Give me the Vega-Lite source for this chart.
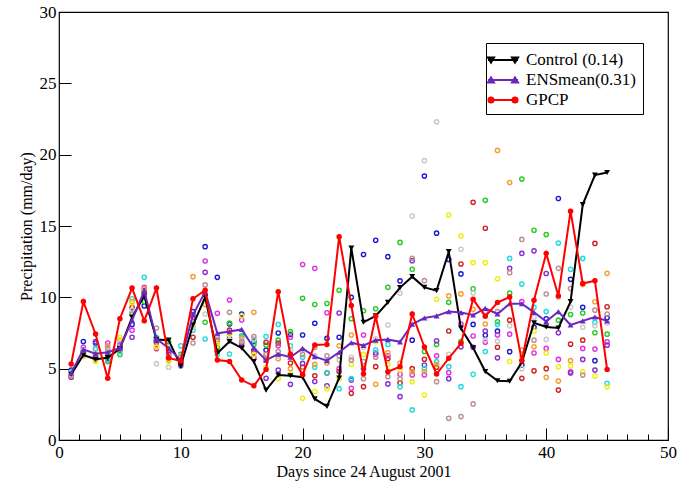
{
  "$schema": "https://vega.github.io/schema/vega-lite/v6.json",
  "width": 609,
  "height": 428,
  "autosize": {"type": "none"},
  "padding": {"left": 59, "top": 12, "right": 11, "bottom": 45},
  "background": "white",
  "config": {
    "view": {"stroke": "black", "strokeWidth": 1.2},
    "font": "Liberation Serif",
    "axis": {
      "domain": false,
      "grid": false,
      "tickColor": "black",
      "tickWidth": 1,
      "labelColor": "black",
      "labelFont": "Liberation Serif",
      "labelFontSize": 17,
      "titleFont": "Liberation Serif",
      "titleFontSize": 16,
      "titleFontWeight": "normal",
      "titleColor": "black",
      "labelFlush": false,
      "labelOverlap": false
    }
  },
  "datasets": {
    "members": [
      {"d": 1, "blue": 4.9, "green": 4.7, "red": 4.6, "magenta": 4.4, "violet": 4.4, "cyan": 4.8, "orange": 4.5, "yellow": 4.6, "grey": 4.7, "brown": 4.5},
      {"d": 2, "blue": 6.9, "green": 6.0, "red": 6.1, "magenta": 6.5, "violet": 6.3, "cyan": 6.2, "orange": 5.9, "yellow": 6.0, "grey": 6.3, "brown": 6.1},
      {"d": 3, "blue": 6.8, "green": 6.0, "red": 5.8, "magenta": 6.4, "violet": 6.9, "cyan": 6.4, "orange": 5.6, "yellow": 5.5, "grey": 6.1, "brown": 5.7},
      {"d": 4, "blue": 5.9, "green": 5.5, "red": 5.7, "magenta": 6.8, "violet": 6.1, "cyan": 5.6, "orange": 6.6, "yellow": 6.0, "grey": 6.2, "brown": 6.4},
      {"d": 5, "blue": 6.5, "green": 6.0, "red": 6.3, "magenta": 6.4, "violet": 6.6, "cyan": 6.2, "orange": 7.0, "yellow": 7.2, "grey": 6.8, "brown": 6.7},
      {"d": 6, "blue": 8.1, "green": 8.9, "red": 9.3, "magenta": 7.7, "violet": 7.2, "cyan": 9.9, "orange": 9.7, "yellow": 9.6, "grey": 9.1, "brown": 8.8},
      {"d": 7, "blue": 9.4, "green": 9.7, "red": 10.3, "magenta": 10.7, "violet": 10.5, "cyan": 11.4, "orange": 10.6, "yellow": 10.2, "grey": 10.0, "brown": 10.1},
      {"d": 8, "blue": 7.0, "green": 7.1, "red": 6.9, "magenta": 6.4, "violet": 6.8, "cyan": 7.2, "orange": 6.6, "yellow": 6.5, "grey": 5.35, "brown": 7.85},
      {"d": 9, "blue": 6.3, "green": 6.9, "red": 5.8, "magenta": 6.1, "violet": 6.0, "cyan": 6.4, "orange": 5.6, "yellow": 5.5, "grey": 5.1, "brown": 5.9},
      {"d": 10, "blue": 5.8, "green": 6.0, "red": 5.6, "magenta": 5.4, "violet": 5.2, "cyan": 6.6, "orange": 5.5, "yellow": 5.7, "grey": 5.9, "brown": 5.5},
      {"d": 11, "blue": 9.0, "green": 8.3, "red": 7.2, "magenta": 8.6, "violet": 8.8, "cyan": 7.7, "orange": 11.45, "yellow": 8.0, "grey": 7.9, "brown": 6.8},
      {"d": 12, "blue": 13.55, "green": 8.25, "red": 10.2, "magenta": 12.55, "violet": 11.75, "cyan": 7.08, "orange": 9.5, "yellow": 9.8, "grey": 8.83, "brown": 10.87},
      {"d": 13, "blue": 11.4, "green": 6.5, "red": 6.2, "magenta": 8.88, "violet": 7.0, "cyan": 6.0, "orange": 6.9, "yellow": 6.7, "grey": 7.36, "brown": 7.2},
      {"d": 14, "blue": 8.13, "green": 8.2, "red": 7.7, "magenta": 9.81, "violet": 7.13, "cyan": 6.03, "orange": 7.5, "yellow": 7.4, "grey": 7.0, "brown": 8.95},
      {"d": 15, "blue": 8.83, "green": 7.3, "red": 6.6, "magenta": 8.41, "violet": 6.8, "cyan": 7.2, "orange": 7.13, "yellow": 8.7, "grey": 7.0, "brown": 6.9},
      {"d": 16, "blue": 6.9, "green": 6.7, "red": 6.1, "magenta": 5.77, "violet": 6.3, "cyan": 7.0, "orange": 8.95, "yellow": 6.0, "grey": 7.1, "brown": 7.25},
      {"d": 17, "blue": 6.3, "green": 6.66, "red": 6.85, "magenta": 5.6, "violet": 4.33, "cyan": 7.25, "orange": 6.0, "yellow": 5.1, "grey": 5.8, "brown": 6.0},
      {"d": 18, "blue": 7.5, "green": 7.0, "red": 6.8, "magenta": 6.6, "violet": 4.9, "cyan": 8.1, "orange": 5.7, "yellow": 4.3, "grey": 5.9, "brown": 6.2},
      {"d": 19, "blue": 7.4, "green": 7.6, "red": 5.4, "magenta": 7.2, "violet": 3.9, "cyan": 6.6, "orange": 5.0, "yellow": 4.6, "grey": 6.3, "brown": 6.0},
      {"d": 20, "blue": 7.36, "green": 9.93, "red": 5.1, "magenta": 12.3, "violet": 5.37, "cyan": 5.8, "orange": 4.8, "yellow": 2.92, "grey": 6.3, "brown": 6.0},
      {"d": 21, "blue": 8.18, "green": 9.5, "red": 4.5, "magenta": 12.03, "violet": 4.1, "cyan": 5.1, "orange": 5.3, "yellow": 3.4, "grey": 5.9, "brown": 6.5},
      {"d": 22, "blue": 7.12, "green": 9.57, "red": 4.7, "magenta": 8.92, "violet": 3.8, "cyan": 4.72, "orange": 5.4, "yellow": 3.6, "grey": 5.6, "brown": 5.9},
      {"d": 23, "blue": 7.2, "green": 10.5, "red": 4.8, "magenta": 5.0, "violet": 8.9, "cyan": 3.6, "orange": 6.6, "yellow": 4.3, "grey": 5.6, "brown": 5.9},
      {"d": 24, "blue": 10.0, "green": 8.5, "red": 3.27, "magenta": 3.62, "violet": 4.2, "cyan": 4.3, "orange": 7.36, "yellow": 5.3, "grey": 5.8, "brown": 5.6},
      {"d": 25, "blue": 13.0, "green": 9.06, "red": 3.74, "magenta": 7.36, "violet": 5.0, "cyan": 5.5, "orange": 5.2, "yellow": 6.0, "grey": 6.5, "brown": 4.3},
      {"d": 26, "blue": 14.0, "green": 9.2, "red": 5.14, "magenta": 6.0, "violet": 6.1, "cyan": 6.3, "orange": 3.9, "yellow": 6.9, "grey": 7.1, "brown": 5.8},
      {"d": 27, "blue": 12.85, "green": 10.7, "red": 5.7, "magenta": 5.9, "violet": 3.93, "cyan": 6.7, "orange": 6.12, "yellow": 5.3, "grey": 8.06, "brown": 4.44},
      {"d": 28, "blue": 11.15, "green": 13.85, "red": 4.0, "magenta": 4.6, "violet": 3.04, "cyan": 3.74, "orange": 5.4, "yellow": 4.9, "grey": 10.28, "brown": 4.3},
      {"d": 29, "blue": 7.0, "green": 11.96, "red": 5.0, "magenta": 4.56, "violet": 12.57, "cyan": 2.11, "orange": 4.79, "yellow": 4.09, "grey": 15.7, "brown": 12.74},
      {"d": 30, "blue": 18.5, "green": 6.2, "red": 5.66, "magenta": 4.56, "violet": 5.26, "cyan": 5.0, "orange": 4.8, "yellow": 3.15, "grey": 19.58, "brown": 11.17},
      {"d": 31, "blue": 14.5, "green": 6.7, "red": 5.1, "magenta": 5.9, "violet": 6.96, "cyan": 5.49, "orange": 5.3, "yellow": 9.86, "grey": 22.3, "brown": 4.09},
      {"d": 32, "blue": 12.66, "green": 9.65, "red": 7.64, "magenta": 4.72, "violet": 4.3, "cyan": 5.14, "orange": 10.1, "yellow": 15.77, "grey": 6.0, "brown": 1.52},
      {"d": 33, "blue": 11.64, "green": 6.9, "red": 12.34, "magenta": 8.13, "violet": 6.54, "cyan": 3.74, "orange": 10.24, "yellow": 14.3, "grey": 13.37, "brown": 1.64},
      {"d": 34, "blue": 8.1, "green": 10.6, "red": 16.66, "magenta": 7.29, "violet": 6.5, "cyan": 4.6, "orange": 9.16, "yellow": 12.43, "grey": 10.3, "brown": 2.53},
      {"d": 35, "blue": 7.34, "green": 16.8, "red": 14.84, "magenta": 6.85, "violet": 7.64, "cyan": 6.2, "orange": 8.13, "yellow": 12.43, "grey": 7.0, "brown": 9.0},
      {"d": 36, "blue": 7.63, "green": 8.29, "red": 6.5, "magenta": 7.36, "violet": 5.76, "cyan": 8.1, "orange": 20.3, "yellow": 11.3, "grey": 6.93, "brown": 9.0},
      {"d": 37, "blue": 6.19, "green": 10.3, "red": 8.4, "magenta": 7.42, "violet": 12.03, "cyan": 12.73, "orange": 18.05, "yellow": 5.5, "grey": 8.0, "brown": 11.72},
      {"d": 38, "blue": 5.25, "green": 18.29, "red": 4.32, "magenta": 9.7, "violet": 13.08, "cyan": 10.93, "orange": 6.3, "yellow": 5.8, "grey": 5.0, "brown": 14.06},
      {"d": 39, "blue": 7.9, "green": 14.7, "red": 4.85, "magenta": 6.1, "violet": 13.26, "cyan": 9.3, "orange": 6.54, "yellow": 7.63, "grey": 8.6, "brown": 7.0},
      {"d": 40, "blue": 8.5, "green": 14.4, "red": 5.0, "magenta": 6.42, "violet": 11.67, "cyan": 9.0, "orange": 4.39, "yellow": 6.1, "grey": 7.05, "brown": 10.23},
      {"d": 41, "blue": 16.93, "green": 8.4, "red": 3.5, "magenta": 5.65, "violet": 7.52, "cyan": 13.8, "orange": 4.13, "yellow": 5.13, "grey": 10.0, "brown": 12.03},
      {"d": 42, "blue": 11.26, "green": 8.8, "red": 6.72, "magenta": 4.78, "violet": 4.7, "cyan": 11.96, "orange": 5.56, "yellow": 5.18, "grey": 9.3, "brown": 10.62},
      {"d": 43, "blue": 9.3, "green": 8.9, "red": 7.0, "magenta": 6.42, "violet": 5.65, "cyan": 12.73, "orange": 10.9, "yellow": 4.78, "grey": 7.9, "brown": 4.55},
      {"d": 44, "blue": 5.56, "green": 7.52, "red": 13.78, "magenta": 6.37, "violet": 4.9, "cyan": 8.24, "orange": 9.69, "yellow": 4.48, "grey": 8.0, "brown": 9.1},
      {"d": 45, "blue": 8.57, "green": 7.42, "red": 9.34, "magenta": 6.88, "violet": 6.65, "cyan": 3.97, "orange": 11.68, "yellow": 3.73, "grey": 8.2, "brown": 8.83}
    ],
    "series": [
      {"d": 1, "Control": 4.6, "ENSmean": 4.7, "GPCP": 5.33},
      {"d": 2, "Control": 5.96, "ENSmean": 6.35, "GPCP": 9.7},
      {"d": 3, "Control": 5.66, "ENSmean": 6.05, "GPCP": 7.43},
      {"d": 4, "Control": 5.77, "ENSmean": 6.15, "GPCP": 4.33},
      {"d": 5, "Control": 6.4, "ENSmean": 6.45, "GPCP": 8.5},
      {"d": 6, "Control": 8.6, "ENSmean": 8.4, "GPCP": 10.65},
      {"d": 7, "Control": 10.1, "ENSmean": 10.45, "GPCP": 8.35},
      {"d": 8, "Control": 7.05, "ENSmean": 7.1, "GPCP": 10.65},
      {"d": 9, "Control": 7.0, "ENSmean": 6.43, "GPCP": 5.75},
      {"d": 10, "Control": 5.2, "ENSmean": 5.6, "GPCP": 5.54},
      {"d": 11, "Control": 8.06, "ENSmean": 8.76, "GPCP": 9.9},
      {"d": 12, "Control": 10.0, "ENSmean": 10.4, "GPCP": 10.5},
      {"d": 13, "Control": 6.08, "ENSmean": 7.48, "GPCP": 5.6},
      {"d": 14, "Control": 6.9, "ENSmean": 7.6, "GPCP": 5.5},
      {"d": 15, "Control": 6.45, "ENSmean": 7.75, "GPCP": 4.2},
      {"d": 16, "Control": 5.49, "ENSmean": 6.45, "GPCP": 3.8},
      {"d": 17, "Control": 3.5, "ENSmean": 5.6, "GPCP": 4.95},
      {"d": 18, "Control": 4.56, "ENSmean": 6.02, "GPCP": 10.4},
      {"d": 19, "Control": 4.5, "ENSmean": 5.8, "GPCP": 6.0},
      {"d": 20, "Control": 4.4, "ENSmean": 6.42, "GPCP": 4.58},
      {"d": 21, "Control": 2.88, "ENSmean": 5.84, "GPCP": 6.66},
      {"d": 22, "Control": 2.36, "ENSmean": 5.56, "GPCP": 6.7},
      {"d": 23, "Control": 4.35, "ENSmean": 6.15, "GPCP": 14.25},
      {"d": 24, "Control": 13.45, "ENSmean": 6.82, "GPCP": 9.43},
      {"d": 25, "Control": 8.25, "ENSmean": 6.63, "GPCP": 4.65},
      {"d": 26, "Control": 8.7, "ENSmean": 7.0, "GPCP": 8.67},
      {"d": 27, "Control": 9.65, "ENSmean": 7.05, "GPCP": 4.79},
      {"d": 28, "Control": 10.68, "ENSmean": 6.88, "GPCP": 5.14},
      {"d": 29, "Control": 11.45, "ENSmean": 8.12, "GPCP": 8.83},
      {"d": 30, "Control": 10.7, "ENSmean": 8.55, "GPCP": 6.52},
      {"d": 31, "Control": 10.47, "ENSmean": 8.7, "GPCP": 4.62},
      {"d": 32, "Control": 13.2, "ENSmean": 9.0, "GPCP": 5.73},
      {"d": 33, "Control": 7.83, "ENSmean": 8.93, "GPCP": 6.78},
      {"d": 34, "Control": 6.47, "ENSmean": 8.76, "GPCP": 9.86},
      {"d": 35, "Control": 4.8, "ENSmean": 9.23, "GPCP": 8.67},
      {"d": 36, "Control": 4.15, "ENSmean": 8.83, "GPCP": 9.63},
      {"d": 37, "Control": 4.12, "ENSmean": 9.55, "GPCP": 10.02},
      {"d": 38, "Control": 5.45, "ENSmean": 9.55, "GPCP": 5.55},
      {"d": 39, "Control": 8.22, "ENSmean": 8.95, "GPCP": 9.8},
      {"d": 40, "Control": 7.92, "ENSmean": 8.3, "GPCP": 13.08},
      {"d": 41, "Control": 7.85, "ENSmean": 9.0, "GPCP": 10.1},
      {"d": 42, "Control": 9.7, "ENSmean": 8.06, "GPCP": 16.04},
      {"d": 43, "Control": 16.5, "ENSmean": 8.35, "GPCP": 10.97},
      {"d": 44, "Control": 18.57, "ENSmean": 8.62, "GPCP": 11.16},
      {"d": 45, "Control": 18.75, "ENSmean": 8.35, "GPCP": 4.95}
    ]
  },
  "encoding": {
    "x": {
      "field": "d",
      "type": "quantitative",
      "scale": {"domain": [0, 50], "nice": false, "zero": false},
      "axis": {
        "title": "Days since 24 August 2001",
        "values": [0, 1.6667, 3.3333, 5, 6.6667, 8.3333, 10, 11.6667, 13.3333, 15, 16.6667, 18.3333, 20, 21.6667, 23.3333, 25, 26.6667, 28.3333, 30, 31.6667, 33.3333, 35, 36.6667, 38.3333, 40, 41.6667, 43.3333, 45, 46.6667, 48.3333, 50],
        "labelExpr": "datum.value % 10 === 0 ? datum.label : ''",
        "tickSize": {"condition": {"test": "datum.value % 10 === 0", "value": -12}, "value": -6},
        "labelPadding": 16,
        "titlePadding": -3
      }
    }
  },
  "layer": [
    {
      "data": {"name": "members"},
      "transform": [
        {"fold": ["blue", "green", "red", "magenta", "violet", "cyan", "orange", "yellow", "grey", "brown"], "as": ["member", "v"]}
      ],
      "mark": {"type": "point", "shape": "circle", "filled": false, "size": 18, "strokeWidth": 1.4, "opacity": 1},
      "encoding": {
        "y": {
          "field": "v",
          "type": "quantitative",
          "scale": {"domain": [0, 30], "nice": false},
          "axis": {
            "title": "Precipitation (mm/day)",
            "values": [0, 2.5, 5, 7.5, 10, 12.5, 15, 17.5, 20, 22.5, 25, 27.5, 30],
            "labelExpr": "datum.value % 5 === 0 ? datum.label : ''",
            "tickSize": {"condition": {"test": "datum.value % 5 === 0", "value": -12}, "value": -6},
            "labelPadding": 15,
            "titlePadding": 5
          }
        },
        "stroke": {
          "field": "member",
          "type": "nominal",
          "scale": {
            "domain": ["blue", "green", "red", "magenta", "violet", "cyan", "orange", "yellow", "grey", "brown"],
            "range": ["#1a1ad0", "#22cc22", "#d02020", "#e030e0", "#8a2bd0", "#20dcdc", "#f0a030", "#eeee10", "#c8c8c8", "#bc8f8f"]
          },
          "legend": null
        }
      }
    },
    {
      "data": {"name": "series"},
      "mark": {"type": "line", "strokeWidth": 2},
      "encoding": {
        "y": {"field": "Control", "type": "quantitative"},
        "color": {
          "datum": "Control",
          "type": "nominal",
          "scale": {"domain": ["Control", "ENSmean", "GPCP"], "range": ["#000000", "#6a28c0", "#ff0000"]},
          "legend": {
            "title": null,
            "orient": "none",
            "legendX": 427,
            "legendY": 31,
            "strokeColor": "black",
            "fillColor": "white",
            "padding": 6,
            "labelFont": "Liberation Serif",
            "labelFontSize": 17,
            "labelColor": "black",
            "labelOffset": 12,
            "symbolSize": 400,
            "symbolStrokeWidth": 2,
            "rowPadding": 1,
            "labelExpr": "datum.label === 'Control' ? 'Control (0.14)' : datum.label === 'ENSmean' ? 'ENSmean(0.31)' : 'GPCP'",
            "encode": {
              "symbols": {
                "update": {
                  "shape": {"signal": "datum.value === 'Control' ? 'M-1.5,0H1.5M-1.5,-0.25H-0.9L-1.2,0.25ZM0.9,-0.25H1.5L1.2,0.25Z' : datum.value === 'ENSmean' ? 'M-1.5,0H1.5M-1.5,0.25H-0.9L-1.2,-0.25ZM0.9,0.25H1.5L1.2,-0.25Z' : 'M-1.5,0H1.5M-1.45,0A0.25,0.25 0 1,0 -0.95,0A0.25,0.25 0 1,0 -1.45,0ZM0.95,0A0.25,0.25 0 1,0 1.45,0A0.25,0.25 0 1,0 0.95,0Z'"},
                  "fill": {"signal": "scale('color', datum.value)"},
                  "stroke": {"signal": "scale('color', datum.value)"},
                  "strokeWidth": {"value": 2},
                  "opacity": {"value": 1}
                }
              }
            }
          }
        }
      }
    },
    {
      "data": {"name": "series"},
      "mark": {"type": "point", "shape": "triangle-down", "filled": true, "size": 35, "opacity": 1},
      "encoding": {
        "y": {"field": "Control", "type": "quantitative"},
        "color": {"datum": "Control", "type": "nominal", "legend": null}
      }
    },
    {
      "data": {"name": "series"},
      "mark": {"type": "line", "strokeWidth": 2},
      "encoding": {
        "y": {"field": "ENSmean", "type": "quantitative"},
        "color": {"datum": "ENSmean", "type": "nominal", "legend": null}
      }
    },
    {
      "data": {"name": "series"},
      "mark": {"type": "point", "shape": "triangle-up", "filled": true, "size": 35, "opacity": 1},
      "encoding": {
        "y": {"field": "ENSmean", "type": "quantitative"},
        "color": {"datum": "ENSmean", "type": "nominal", "legend": null}
      }
    },
    {
      "data": {"name": "series"},
      "mark": {"type": "line", "strokeWidth": 2},
      "encoding": {
        "y": {"field": "GPCP", "type": "quantitative"},
        "color": {"datum": "GPCP", "type": "nominal", "legend": null}
      }
    },
    {
      "data": {"name": "series"},
      "mark": {"type": "point", "shape": "circle", "filled": true, "size": 30, "opacity": 1},
      "encoding": {
        "y": {"field": "GPCP", "type": "quantitative"},
        "color": {"datum": "GPCP", "type": "nominal", "legend": null}
      }
    }
  ]
}
